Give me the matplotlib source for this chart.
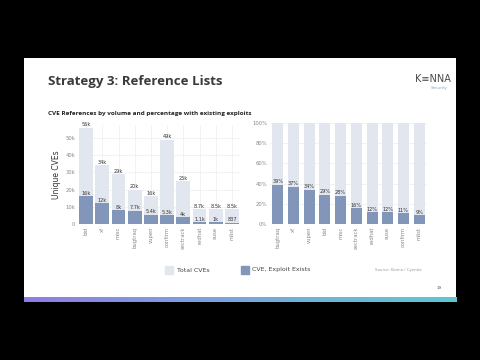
import numpy as np
import matplotlib
matplotlib.use('Agg')
import matplotlib.pyplot as plt
from matplotlib.colors import LinearSegmentedColormap

# left chart: volume of CVE references per source
vol_refs = ['bid', 'xf', 'misc', 'bugtraq', 'vupen', 'confirm', 'sectrack', 'redhat', 'suse', 'mlist']
vol_total = [56000, 34000, 29000, 20000, 16000, 49000, 25000, 8700, 8500, 8500]
vol_exploit = [16000, 12000, 8000, 7700, 5400, 5300, 4000, 1100, 1000, 837]
vol_total_lbl = ['56k', '34k', '29k', '20k', '16k', '49k', '25k', '8.7k', '8.5k', '8.5k']
vol_exploit_lbl = ['16k', '12k', '8k', '7.7k', '5.4k', '5.3k', '4k', '1.1k', '1k', '837']

# right chart: share with existing exploits
pct_refs = ['bugtraq', 'xf', 'vupen', 'bid', 'misc', 'sectrack', 'redhat', 'suse', 'confirm', 'mlist']
pct_vals = [39, 37, 34, 29, 28, 16, 12, 12, 11, 9]

LIGHT = '#e2e6ee'
DARK = '#8196b8'
GRID = '#eef0f4'

W, H = 480, 360
fig = plt.figure(figsize=(4.8, 3.6), dpi=100)
fig.patch.set_facecolor('black')

def fx(x):
    return x / W

def fy(y):
    return 1 - y / H

# white slide area
slide = fig.add_axes([fx(24), fy(302), fx(456 - 24), (302 - 58) / H])
slide.set_facecolor('white')
slide.set_xticks([])
slide.set_yticks([])
for s in slide.spines.values():
    s.set_visible(False)

# gradient strip at the bottom of the slide
grad = fig.add_axes([fx(24), fy(302), fx(456 - 24), 5 / H])
cmap = LinearSegmentedColormap.from_list('strip', ['#8f7de3', '#7f9be0', '#6fb3d8', '#5ec7cf'])
grad.imshow(np.linspace(0, 1, 256)[None, :], aspect='auto', cmap=cmap)
grad.axis('off')

fig.text(fx(48), fy(82), 'Strategy 3: Reference Lists', fontsize=9.5, fontweight='bold',
         color='#3a3a3a', va='center', ha='left', family='Open Sans')
fig.text(fx(48), fy(114), 'CVE References by volume and percentage with existing exploits',
         fontsize=4.6, fontweight='bold', color='#222222', va='center', ha='left', family='Open Sans')
fig.text(fx(433), fy(79), 'K\u2261NNA', fontsize=7, color='#4a4a4a', ha='center', va='center',
         family='DejaVu Sans')
fig.text(fx(448), fy(88), 'Security', fontsize=3, color='#8aa6b8', ha='right', va='center')


def style_ax(ax):
    ax.set_facecolor('white')
    for s in ax.spines.values():
        s.set_visible(False)
    ax.grid(True, color=GRID, linewidth=0.6)
    ax.set_axisbelow(True)
    ax.tick_params(length=0, labelsize=3.8, colors='#888888', pad=2)


# ---- left chart
ax1 = fig.add_axes([fx(78), fy(224), fx(240 - 78), (224 - 125) / H])
style_ax(ax1)
x = np.arange(len(vol_refs))
ax1.bar(x, vol_total, width=0.86, color=LIGHT, zorder=2)
ax1.bar(x, vol_exploit, width=0.86, color=DARK, zorder=3)
for i in range(len(x)):
    ax1.text(x[i], vol_total[i] + 200, vol_total_lbl[i], ha='center', va='bottom',
             fontsize=3.6, color='#333333', zorder=4)
    ax1.text(x[i], vol_exploit[i] + 200, vol_exploit_lbl[i], ha='center', va='bottom',
             fontsize=3.6, color='#333333', zorder=4)
ax1.set_xlim(-0.5, len(x) - 0.5)
ax1.set_ylim(0, 57500)
ax1.set_yticks([0, 10000, 20000, 30000, 40000, 50000])
ax1.set_yticklabels(['0', '10k', '20k', '30k', '40k', '50k'])
ax1.set_xticks(x)
ax1.set_xticklabels(vol_refs, rotation=90)
ax1.set_ylabel('Unique CVEs', fontsize=5.5, color='#333333', labelpad=3)

# ---- right chart
ax2 = fig.add_axes([fx(270), fy(224), fx(427 - 270), (224 - 123) / H])
style_ax(ax2)
x2 = np.arange(len(pct_refs))
ax2.bar(x2, [100] * len(x2), width=0.7, color=LIGHT, zorder=2)
ax2.bar(x2, pct_vals, width=0.7, color=DARK, zorder=3)
for i in range(len(x2)):
    ax2.text(x2[i], pct_vals[i] + 0.3, '%d%%' % pct_vals[i], ha='center', va='bottom',
             fontsize=3.6, color='#333333', zorder=4)
ax2.set_xlim(-0.5, len(x2) - 0.5)
ax2.set_ylim(0, 100)
ax2.set_yticks([0, 20, 40, 60, 80, 100])
ax2.set_yticklabels(['0%', '20%', '40%', '60%', '80%', '100%'])
ax2.set_xticks(x2)
ax2.set_xticklabels(pct_refs, rotation=90)

# legend and footer
fig.patches.append(plt.Rectangle((fx(165), fy(274)), fx(8), 8 / H, transform=fig.transFigure,
                                 color=LIGHT, figure=fig))
fig.text(fx(177), fy(270), 'Total CVEs', fontsize=4.5, color='#444444', va='center')
fig.patches.append(plt.Rectangle((fx(241), fy(274)), fx(8), 8 / H, transform=fig.transFigure,
                                 color=DARK, figure=fig))
fig.text(fx(252), fy(270), 'CVE, Exploit Exists', fontsize=4.5, color='#444444', va='center')
fig.text(fx(375), fy(270), 'Source: Kenna / Cyentia', fontsize=2.8, color='#999999', va='center')
fig.text(fx(439), fy(288), '19', fontsize=3, color='#555555', va='center', ha='center')

fig.savefig('out.png', dpi=100, facecolor=fig.get_facecolor())
